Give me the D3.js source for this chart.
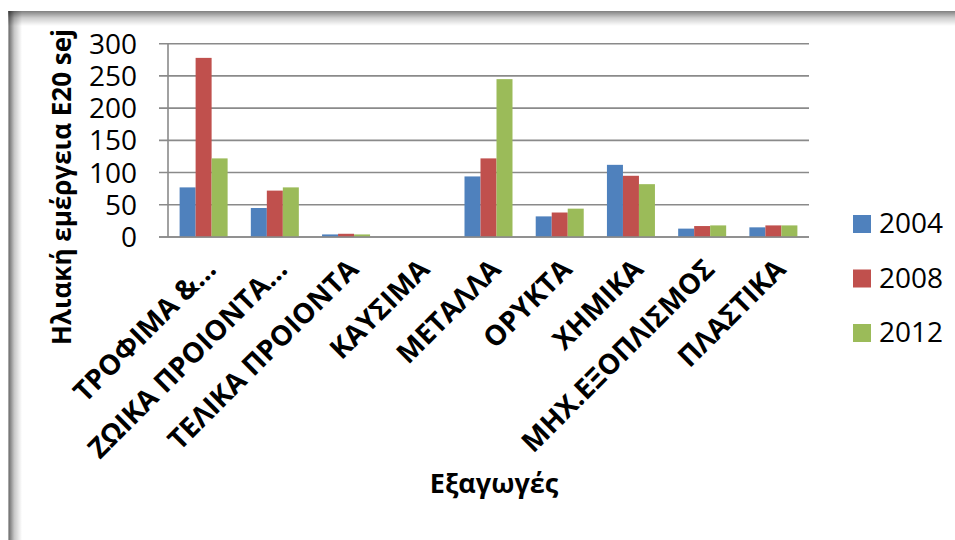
<!DOCTYPE html>
<html>
<head>
<meta charset="utf-8">
<script src="https://cdn.jsdelivr.net/npm/d3@7"></script>
<style>
  html, body { margin: 0; padding: 0; background: #fff; }
  svg { display: block; }
  text { font-family: "Open Sans", "Noto Sans", sans-serif; fill: #000; }
</style>
</head>
<body>
<svg id="chart" width="955" height="540"></svg>
<script>
// Export categories and solar emergy per year (E20 sej)
const categories = ["ΤΡΟΦΙΜΑ &…", "ΖΩΙΚΑ ΠΡΟΙΟΝΤΑ…", "ΤΕΛΙΚΑ ΠΡΟΙΟΝΤΑ", "ΚΑΥΣΙΜΑ", "ΜΕΤΑΛΛΑ", "ΟΡΥΚΤΑ", "ΧΗΜΙΚΑ", "ΜΗΧ.ΕΞΟΠΛΙΣΜΟΣ", "ΠΛΑΣΤΙΚΑ"];
const years = ["2004", "2008", "2012"];
const values2004 = [77, 45, 4, 0, 94, 32, 112, 13, 15];
const values2008 = [278, 72, 5, 0, 122, 38, 95, 17, 18];
const values2012 = [122, 77, 4, 0, 245, 44, 82, 18, 18];
const yTicks = [0, 50, 100, 150, 200, 250, 300];
const colors = ["#4F81BD", "#C0504D", "#9BBB59"];
const yTitle = "Ηλιακή εμέργεια E20 sej";
const xTitle = "Εξαγωγές";

const seriesValues = [values2004, values2008, values2012];

const svg = d3.select("#chart");

// Shadowed frame along the top and left edges
const defs = svg.append("defs");
const gTop = defs.append("linearGradient").attr("id", "shadeTop")
  .attr("x1", 0).attr("y1", 0).attr("x2", 0).attr("y2", 1);
gTop.append("stop").attr("offset", 0).attr("stop-color", "#000").attr("stop-opacity", 0.5);
gTop.append("stop").attr("offset", 0.45).attr("stop-color", "#000").attr("stop-opacity", 0.2);
gTop.append("stop").attr("offset", 1).attr("stop-color", "#000").attr("stop-opacity", 0);
const gLeft = defs.append("linearGradient").attr("id", "shadeLeft")
  .attr("x1", 0).attr("y1", 0).attr("x2", 1).attr("y2", 0);
gLeft.append("stop").attr("offset", 0).attr("stop-color", "#000").attr("stop-opacity", 0.18);
gLeft.append("stop").attr("offset", 0.08).attr("stop-color", "#000").attr("stop-opacity", 0.55);
gLeft.append("stop").attr("offset", 0.45).attr("stop-color", "#000").attr("stop-opacity", 0.22);
gLeft.append("stop").attr("offset", 1).attr("stop-color", "#000").attr("stop-opacity", 0);

svg.append("rect").attr("x", 8).attr("y", 11).attr("width", 947).attr("height", 15)
  .attr("fill", "url(#shadeTop)");
svg.append("rect").attr("x", 8).attr("y", 11).attr("width", 14).attr("height", 529)
  .attr("fill", "url(#shadeLeft)");

// Plot geometry
const plot = { left: 168, right: 809, top: 43.7, bottom: 237 };

const x0 = d3.scaleBand()
  .domain(categories)
  .range([plot.left, plot.right])
  .paddingInner(0.326)
  .paddingOuter(0.163);

const x1 = d3.scaleBand()
  .domain(years)
  .range([0, x0.bandwidth()]);

const y = d3.scaleLinear()
  .domain([0, 300])
  .range([plot.bottom, plot.top]);

const gridColor = "#8a8a8a";

// Horizontal gridlines with outward tick marks on the value axis
svg.append("g")
  .selectAll("line")
  .data(yTicks)
  .join("line")
  .attr("x1", plot.left - 9)
  .attr("x2", plot.right)
  .attr("y1", d => y(d))
  .attr("y2", d => y(d))
  .attr("stroke", gridColor)
  .attr("stroke-width", 1.6);

// Value axis line
svg.append("line")
  .attr("x1", plot.left).attr("x2", plot.left)
  .attr("y1", y(300)).attr("y2", y(0))
  .attr("stroke", gridColor).attr("stroke-width", 1.6);

// Value axis labels
svg.append("g")
  .selectAll("text")
  .data(yTicks)
  .join("text")
  .attr("x", 137)
  .attr("y", d => y(d))
  .attr("dy", "0.36em")
  .attr("text-anchor", "end")
  .style("font-size", "28px")
  .text(d => d);

// Bars
const groups = svg.append("g")
  .selectAll("g")
  .data(categories)
  .join("g")
  .attr("transform", d => `translate(${x0(d)},0)`);

groups.selectAll("rect")
  .data((d, i) => years.map((yr, s) => ({ yr, s, v: seriesValues[s][i] })))
  .join("rect")
  .attr("x", d => x1(d.yr))
  .attr("width", x1.bandwidth())
  .attr("y", d => y(d.v))
  .attr("height", d => y(0) - y(d.v))
  .attr("fill", d => colors[d.s]);

// Category axis line drawn over the bar bases
svg.append("line")
  .attr("x1", plot.left - 9).attr("x2", plot.right)
  .attr("y1", y(0)).attr("y2", y(0))
  .attr("stroke", gridColor).attr("stroke-width", 1.6);

// Rotated category labels
svg.append("g")
  .selectAll("text")
  .data(categories)
  .join("text")
  .attr("transform", d => {
    const cx = x0(d) + x0.bandwidth() / 2 + 14;
    return `translate(${cx},271) rotate(-45)`;
  })
  .attr("text-anchor", "end")
  .style("font-size", "28px")
  .style("font-weight", "bold")
  .text(d => d);

// Axis titles
svg.append("text")
  .attr("transform", "translate(71,187) rotate(-90)")
  .attr("text-anchor", "middle")
  .style("font-size", "26px")
  .style("font-weight", "bold")
  .text(yTitle);

svg.append("text")
  .attr("x", 494)
  .attr("y", 493)
  .attr("text-anchor", "middle")
  .style("font-size", "27px")
  .style("font-weight", "bold")
  .text(xTitle);

// Legend
const legend = svg.append("g")
  .selectAll("g")
  .data(years)
  .join("g")
  .attr("transform", (d, i) => `translate(853,${215 + i * 54.5})`);

legend.append("rect")
  .attr("width", 18).attr("height", 18)
  .attr("fill", (d, i) => colors[i]);

legend.append("text")
  .attr("x", 26)
  .attr("y", 18)
  .style("font-size", "28px")
  .text(d => d);
</script>
</body>
</html>
